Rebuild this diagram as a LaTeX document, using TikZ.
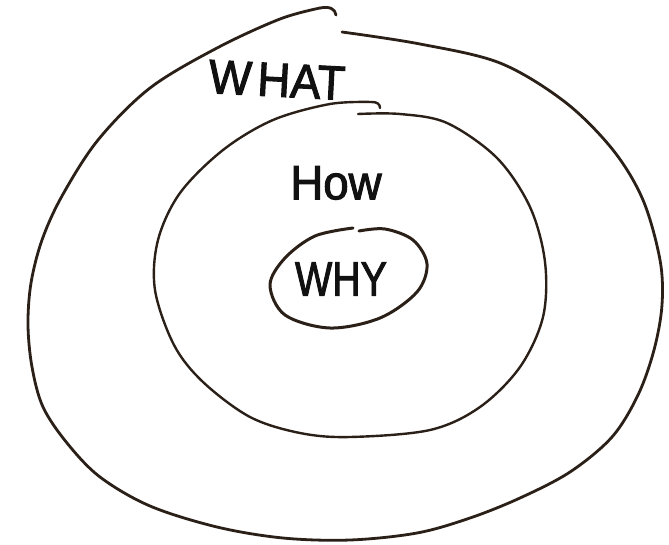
\documentclass[tikz,border=0pt]{standalone}
\usepackage{fontspec}
\setmainfont{Liberation Sans}
\newfontfamily\handfont[FakeBold=2.2]{Liberation Sans}
\definecolor{ink}{HTML}{2B2018}
\definecolor{textink}{HTML}{111111}
\begin{document}
\begin{tikzpicture}[x=1pt,y=-1pt,
  ring/.style={draw=ink, line cap=round, line join=round},
  lbl/.style={font=\handfont\fontsize{48}{48}\selectfont, text=textink, inner sep=0pt}]
\useasboundingbox[fill=white] (0,0) rectangle (669,544);
% outer loop (WHAT)
\draw[ring, line width=2.8pt] plot[smooth, tension=0.55] coordinates {
 (342,32) (420,44) (500,63) (565,102) (613,150) (643,200) (660,260) (662,305)
 (654,350) (638,395) (612,437) (570,472) (520,498) (470,518) (417,533) (350,540)
 (283,538) (217,527) (150,506) (100,477) (67,443) (43,407) (32,367) (28,325)
 (31,283) (42,240) (62,196) (98,140) (150,88) (217,48) (280,19) (320,8)};
\draw[ring, line width=2.8pt] (320,8) .. controls (330,6) and (335,9) .. (336,15);
% middle loop (HOW)
\draw[ring, line width=2.4pt] plot[smooth, tension=0.55] coordinates {
 (358,114) (400,114) (447,123) (497,158) (530,207) (545,262) (543,317) (520,367)
 (480,407) (430,430) (350,437) (300,433) (250,417) (203,382) (174,345)
 (155,290) (158,240) (180,193) (223,150) (273,120) (330,104) (372,102)};
\draw[ring, line width=2.4pt] (372,102) .. controls (377,102) and (380,104) .. (380,108);
% inner loop (WHY)
\draw[ring, line width=3pt] plot[smooth, tension=0.55] coordinates {
 (359,231) (385,229) (413,240) (427,264) (417,292) (380,318) (330,328)
 (285,315) (270,285) (285,258) (315,236) (353,228)};
\node[lbl, rotate=-3, xscale=0.95] (what) at (277,80) {W\hspace{6pt}HAT};
\node[lbl, xscale=0.95] (how) at (336,183) {How};
\node[lbl, xscale=0.82] (why) at (341,279) {WHY};
\end{tikzpicture}
\end{document}
